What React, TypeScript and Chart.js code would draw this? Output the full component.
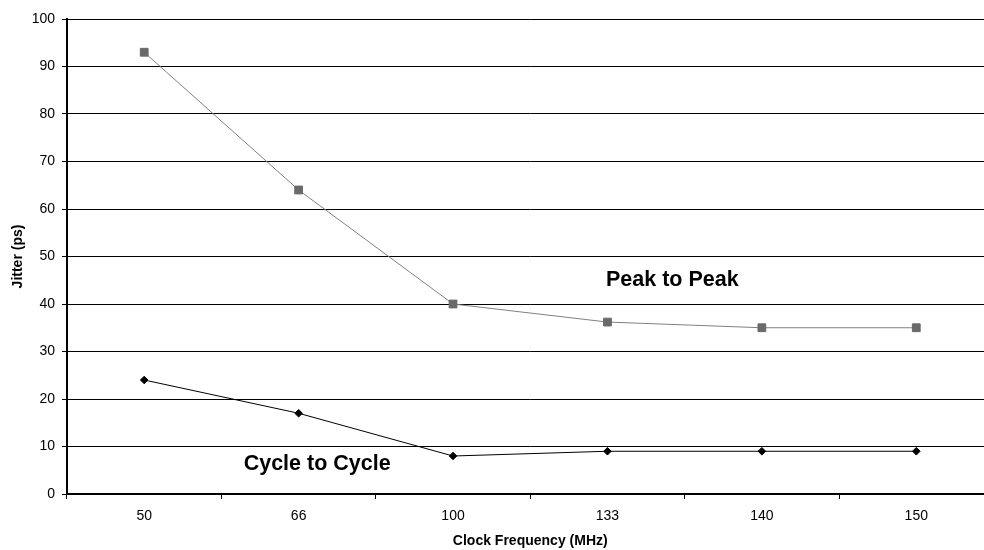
import React, { useEffect, useRef } from "react";
import { Chart, registerables } from "chart.js";

Chart.register(...registerables);

const categories = ["50", "66", "100", "133", "140", "150"];
const peakToPeak = [93, 64, 40, 36.2, 35, 35];
const cycleToCycle = [24, 17, 8, 9, 9, 9];
const yTicks = [0, 10, 20, 30, 40, 50, 60, 70, 80, 90, 100];

const annotations = [
  { text: "Peak to Peak", x: 3.42, y: 45.0 },
  { text: "Cycle to Cycle", x: 1.12, y: 6.2 },
];

const FONT = "'Liberation Sans', Arial, sans-serif";

const labelPlugin = {
  id: "labels",
  afterDatasetsDraw(chart: any) {
    const ctx = chart.ctx;
    const xs = chart.scales.x;
    const ys = chart.scales.y;
    ctx.save();
    ctx.font = `bold 21.5px ${FONT}`;
    ctx.fillStyle = "#000";
    ctx.textAlign = "center";
    ctx.textBaseline = "middle";
    for (const a of annotations) {
      ctx.fillText(a.text, xs.getPixelForValue(a.x), ys.getPixelForValue(a.y));
    }
    ctx.restore();
  },
};

export default function App() {
  const ref = useRef<HTMLCanvasElement>(null);
  useEffect(() => {
    if (!ref.current) return;
    const chart = new Chart(ref.current, {
      type: "line",
      data: {
        labels: categories,
        datasets: [
          {
            label: "Peak to Peak",
            data: peakToPeak,
            borderColor: "#808080",
            backgroundColor: "#6a6a6a",
            borderWidth: 1,
            pointStyle: "rect",
            pointRadius: 5.5,
            pointBorderColor: "#6a6a6a",
            pointBackgroundColor: "#6a6a6a",
            pointBorderWidth: 1,
            tension: 0,
          },
          {
            label: "Cycle to Cycle",
            data: cycleToCycle,
            borderColor: "#000",
            backgroundColor: "#000",
            borderWidth: 1,
            pointStyle: "rectRot",
            pointRadius: 3.8,
            pointBorderColor: "#000",
            pointBackgroundColor: "#000",
            pointBorderWidth: 1,
            tension: 0,
          },
        ],
      },
      options: {
        responsive: false,
        animation: false,
        layout: { padding: { left: 0, right: 4, top: 19, bottom: 0 } },
        plugins: { legend: { display: false }, tooltip: { enabled: false } },
        scales: {
          x: {
            type: "category",
            offset: true,
            grid: {
              offset: true,
              drawOnChartArea: false,
              drawTicks: true,
              tickLength: 5,
              color: "#000",
            },
            border: { display: true, color: "#000", width: 2 },
            ticks: {
              color: "#000",
              font: { family: FONT, size: 14 },
              padding: 9,
              maxRotation: 0,
            },
            title: {
              display: true,
              text: "Clock Frequency (MHz)",
              color: "#000",
              font: { family: FONT, size: 14, weight: "bold" },
              padding: { top: 0, bottom: 0.5 },
            },
            afterFit(scale: any) {
              scale.height = 56;
            },
          },
          y: {
            min: 0,
            max: 100,
            afterBuildTicks(scale: any) {
              scale.ticks = yTicks.map((v) => ({ value: v }));
            },
            grid: {
              color: "#000",
              lineWidth: 1,
              drawTicks: true,
              tickLength: 5,
            },
            border: { display: true, color: "#000", width: 2 },
            ticks: {
              color: "#000",
              font: { family: FONT, size: 14 },
              padding: 7,
            },
            title: {
              display: true,
              text: "Jitter (ps)",
              color: "#000",
              font: { family: FONT, size: 14, weight: "bold" },
              padding: { top: 9.5, bottom: 0 },
            },
            afterFit(scale: any) {
              scale.width = 67;
            },
          },
        },
      },
      plugins: [labelPlugin],
    });
    return () => chart.destroy();
  }, []);

  return (
    <div
      style={{
        position: "fixed",
        left: 0,
        top: 0,
        width: 984,
        height: 550,
        overflow: "hidden",
        background: "#fff",
      }}
    >
      <canvas ref={ref} width={1000} height={550} style={{ display: "block" }} />
    </div>
  );
}
